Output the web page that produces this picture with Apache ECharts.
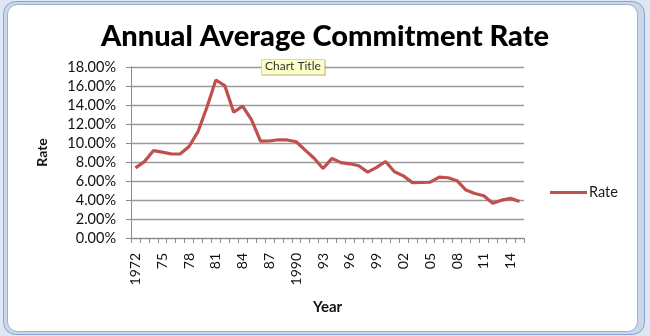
<!DOCTYPE html>
<html>
<head>
<meta charset="utf-8">
<script src="https://cdn.jsdelivr.net/npm/echarts@6/dist/echarts.min.js"></script>
<style>
html,body{margin:0;padding:0;background:#fff;}
#c{width:650px;height:336px;}
</style>
</head>
<body>
<div id="c"></div>
<script>
// ---- data ----
var years = ["1972","1973","1974","1975","1976","1977","1978","1979","1980","1981",
  "1982","1983","1984","1985","1986","1987","1988","1989","1990","1991",
  "1992","1993","1994","1995","1996","1997","1998","1999","2000","2001",
  "2002","2003","2004","2005","2006","2007","2008","2009","2010","2011",
  "2012","2013","2014","2015"];
var rate = [0.0738,0.0804,0.0919,0.0904,0.0886,0.0884,0.0963,0.1119,0.1377,0.1663,
  0.1604,0.1324,0.1388,0.1243,0.1019,0.1021,0.1034,0.1032,0.1013,0.0925,
  0.0839,0.0731,0.0838,0.0793,0.0781,0.0760,0.0694,0.0744,0.0805,0.0697,
  0.0654,0.0583,0.0584,0.0587,0.0641,0.0634,0.0603,0.0504,0.0469,0.0445,
  0.0366,0.0398,0.0417,0.0385];
var fullYearLabels = ["1972","1990"];
var yTicks = {min:0, max:0.18, interval:0.02};

var font = "Lato, 'Open Sans', sans-serif";
var chart = echarts.init(document.getElementById('c'), null, {renderer:'canvas'});
chart.setOption({
  backgroundColor:'#ffffff',
  animation:false,
  title:{
    text:'Annual Average Commitment Rate',
    left:'center', top:17,
    textStyle:{fontFamily:font, fontWeight:900, fontSize:29, color:'#000'}
  },
  legend:{
    left:550, top:185, padding:0,
    icon:'rect', itemWidth:37, itemHeight:3, itemGap:4,
    textStyle:{fontFamily:font, fontSize:14.5, color:'#1a1a1a', padding:[0,0,0,-3]},
    data:['Rate']
  },
  grid:{left:131, right:126, top:67, bottom:98, containLabel:false},
  xAxis:{
    type:'category', data:years, boundaryGap:true,
    name:'Year', nameLocation:'middle', nameGap:62,
    nameTextStyle:{fontFamily:font, fontWeight:'bold', fontSize:15, color:'#111'},
    axisLine:{lineStyle:{color:'#8a8a8a', width:1}},
    axisTick:{show:true, interval:0, length:5, lineStyle:{color:'#8a8a8a'}},
    axisLabel:{
      interval:2, rotate:90, margin:15,
      fontFamily:font, fontSize:14, color:'#111',
      formatter:function(v){ return fullYearLabels.indexOf(v)>=0 ? v : v.slice(2); }
    },
    splitLine:{show:false}
  },
  yAxis:{
    type:'value', min:yTicks.min, max:yTicks.max, interval:yTicks.interval,
    name:'Rate', nameLocation:'middle', nameGap:82, nameRotate:90,
    nameTextStyle:{fontFamily:font, fontWeight:'bold', fontSize:14, color:'#111'},
    axisLine:{show:true, lineStyle:{color:'#8a8a8a', width:1}},
    axisTick:{show:true, length:5, inside:false, lineStyle:{color:'#8a8a8a'}},
    axisLabel:{
      margin:15, fontFamily:font, fontSize:14.5, color:'#111',
      formatter:function(v){ return (v*100).toFixed(2)+'%'; }
    },
    splitLine:{lineStyle:{color:'#9a9a9a', width:1.3}}
  },
  series:[{
    name:'Rate', type:'line', data:rate,
    showSymbol:false, symbol:'none',
    lineStyle:{color:'#c0504d', width:3.2},
    itemStyle:{color:'#c0504d'}
  }],
  graphic:[
    {type:'rect', left:0, top:0, z:-10, shape:{width:650, height:336}, style:{fill:'#dfe7f4'}, silent:true},
    {type:'rect', left:3, top:1, z:-9, shape:{x:0,y:0,width:641, height:333, r:12}, style:{fill:'#c9d6ec', stroke:'#8ea4cb', lineWidth:1}, silent:true},
    {type:'rect', left:7, top:4, z:-8, shape:{x:0,y:0,width:630, height:327, r:10}, style:{fill:'#ffffff', stroke:'#9db0d2', lineWidth:1}, silent:true},
    {type:'rect', left:262, top:60, z:100, shape:{x:0,y:0,width:64,height:16}, style:{fill:'rgba(0,0,0,0.18)'}, silent:true},
    {type:'rect', left:261, top:59, z:101, shape:{x:0,y:0,width:63,height:15}, style:{fill:'#fdfdc8', stroke:'#d8d8a8', lineWidth:1}, silent:true},
    {type:'text', left:265, top:60, z:102, style:{text:'Chart Title', fontFamily:font, fontSize:12, fill:'#333'}, silent:true}
  ]
});
</script>
</body>
</html>
